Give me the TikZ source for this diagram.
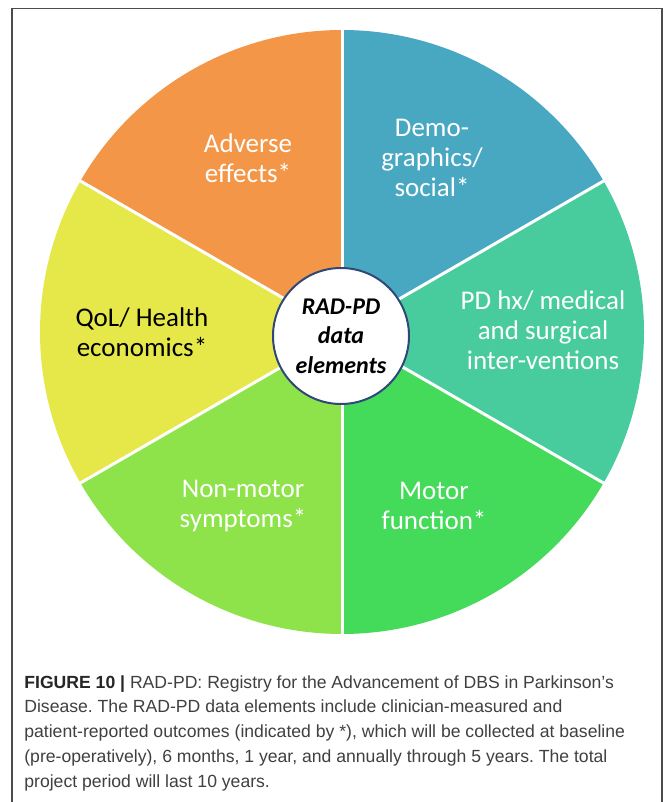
\documentclass[tikz,border=0pt]{standalone}
\usepackage{fontspec}
\setmainfont{Carlito}
\newfontfamily\capfont{Liberation Sans}
\usepackage{tikz}
\usetikzlibrary{positioning}
\definecolor{demo}{RGB}{72,168,194}
\definecolor{adv}{RGB}{243,150,71}
\definecolor{qol}{RGB}{230,232,74}
\definecolor{nonmot}{RGB}{142,227,74}
\definecolor{mot}{RGB}{69,219,90}
\definecolor{pdhx}{RGB}{72,204,158}
\definecolor{ring}{RGB}{47,72,120}
\definecolor{capgray}{RGB}{64,64,64}
\tikzset{every picture/.style={line width=0.75pt}}
\tikzset{lbl/.style={align=center,text=white,inner sep=0pt,font=\fontsize{27}{30}\selectfont}}

\begin{document}
\frenchspacing
\begin{tikzpicture}[x=1pt,y=-1pt]
\useasboundingbox (0,0) rectangle (667,802);
\fill[white] (0,0) rectangle (667,802);
\draw[black!70,line width=1.2pt] (12,806) -- (12,8.5) -- (662,8.5) -- (662,806);
%
\begin{scope}[shift={(342,332)},x=1pt,y=1pt]
\foreach \a/\c in {30/demo,90/adv,150/qol,210/nonmot,270/mot,330/pdhx}
  \fill[\c] (0,0) -- (\a:302) arc[start angle=\a,delta angle=60,radius=302] -- cycle;
\foreach \a in {30,90,...,330}
  \draw[white,line width=3pt] (0,0) -- (\a:304);
\node[circle,draw=ring,fill=white,line width=2pt,minimum size=136pt,inner sep=0pt,
  align=center,font=\fontsize{24}{29.5}\selectfont\bfseries\itshape] (c) at (-1,-4)
  {RAD-PD\\data\\elements};
\end{scope}
%
\node[lbl] (adv) at (248,158) {Adverse\\effects*};
\node[lbl] (demo) at (432,158) {Demo-\\graphics/\\social*};
\node[lbl] (pdhx) at (543,330) {PD hx/ medical\\and surgical\\inter-ventions};
\node[lbl,text=black] (qol) at (142,332) {QoL/ Health\\economics*};
\node[lbl] (nonmot) at (243,506) {Non-motor\\symptoms*};
\node[lbl] (mot) at (434,506) {Motor\\function*};
%
\node[anchor=north west,align=left,inner sep=0pt,text=capgray,
  font=\capfont\fontsize{17.6}{24.8}\selectfont] (cap) at (24,675)
  {{\color{black!85}\bfseries FIGURE 10 |} RAD-PD: Registry for the Advancement of DBS in Parkinson’s\\
  Disease. The RAD-PD data elements include clinician-measured and\\
  patient-reported outcomes (indicated by *), which will be collected at baseline\\
  (pre-operatively), 6 months, 1 year, and annually through 5 years. The total\\
  project period will last 10 years.};
\end{tikzpicture}
\end{document}
